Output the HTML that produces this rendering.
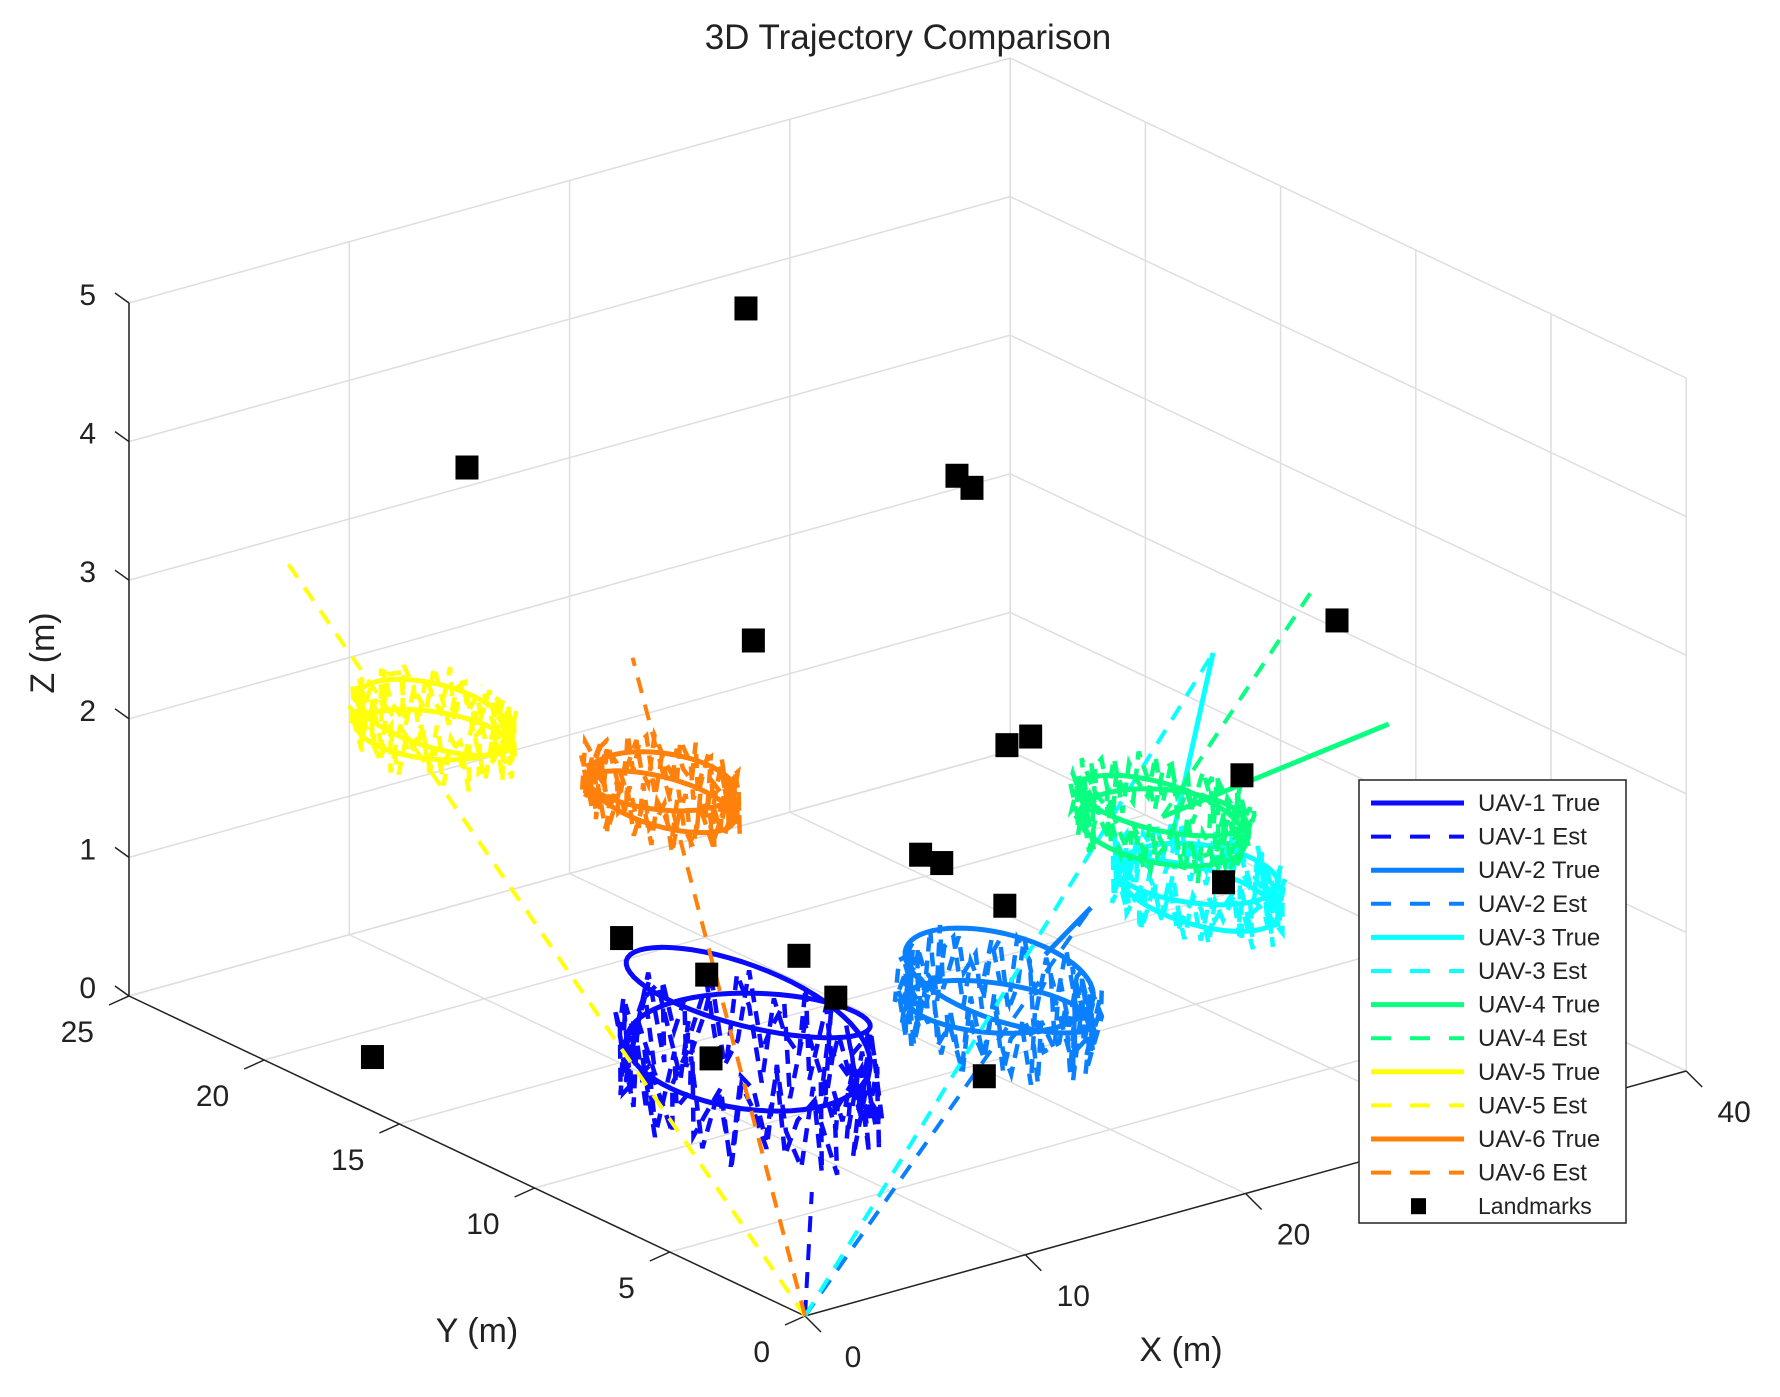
<!DOCTYPE html>
<html><head><meta charset="utf-8"><style>
html,body{margin:0;padding:0;background:#fff;}
svg{display:block;font-family:"Liberation Sans",Arial,sans-serif;}
</style></head><body>
<svg id="chart" width="1780" height="1397" viewBox="0 0 1780 1397" xmlns="http://www.w3.org/2000/svg">
<rect width="1780" height="1397" fill="#fff"/>
<text x="908" y="49" font-size="35" text-anchor="middle" fill="#222">3D Trajectory Comparison</text>
<g id="grid"></g>
<g id="axes"></g>
<g id="series"></g>
<g id="marks"></g>
<text x="1181" y="1361" font-size="34" text-anchor="middle" fill="#222">X (m)</text>
<text x="477" y="1342" font-size="34" text-anchor="middle" fill="#222">Y (m)</text>
<text x="54" y="653" font-size="34" text-anchor="middle" fill="#222" transform="rotate(-90 54 653)">Z (m)</text>
<g id="legend"></g>
</svg>
<script>
// ---- data ----
const xTicks = [0, 10, 20, 30, 40];
const yTicks = [0, 5, 10, 15, 20, 25];
const zTicks = [0, 1, 2, 3, 4, 5];
const uavNames = ["UAV-1", "UAV-2", "UAV-3", "UAV-4", "UAV-5", "UAV-6"];
const uavColors = ["#0a0aff", "#0a80ff", "#0affff", "#0aff80", "#ffff0a", "#ff800a"];
const orbitCX = [8.1, 16.3, 24.7, 25.3, 8.3, 12.5];
const orbitCY = [8.7, 6.1, 5.6, 7.4, 20.5, 15.5];
const orbitCZ = [0.95, 1.05, 1.5, 1.8, 2.0, 1.8];
const orbitR = [3.5, 2.7, 2.3, 2.4, 2.2, 2.1];
const orbitTilt = [0.09, 0.07, 0.05, 0.05, 0.05, 0.05];
const estSpread = [0.45, 0.35, 0.25, 0.25, 0.25, 0.25];
const estOffsetZ = [-0.35, -0.1, 0, 0, 0, 0];
const trueStartX = [3.5, 19.5, 26.0, 25.3, 5.8, 13.9];
const trueStartY = [2.6, 7.0, 7.6, 7.4, 24.0, 17.7];
const trueStartZ = [0.5, 1.1, 1.6, 1.8, 3.0, 2.5];
const trueTailX = [3.5, 22.8, 30.8, 35.7, 5.8, 13.9];
const trueTailY = [2.6, 8.0, 10.0, 7.5, 24.0, 17.7];
const trueTailZ = [0.5, 1.2, 2.5, 2.0, 3.0, 2.5];
const estStartX = [0, 0, 0, 25.3, 0, 0];
const estStartY = [0, 0, 0, 7.4, 0, 0];
const estStartZ = [0, 0, 0, 1.8, 0, 0];
const estTailX = [3.5, 22.8, 30.8, 33.2, 5.8, 13.9];
const estTailY = [2.6, 8.0, 10.0, 8.3, 24.0, 17.7];
const estTailZ = [0.5, 1.2, 2.5, 3.0, 3.0, 2.5];
const noise = [0.8,-0.6,0.3,-0.9,0.5,0.1,-0.4,0.9,-0.2,-0.7,0.6,0.2,-0.8,0.4,-0.1,0.7,-0.5,0.9,-0.3,0.0,0.5,-0.9,0.3,0.8,-0.6,-0.2,0.7,-0.4,0.1,-0.8,0.6,0.4,-0.7,0.2,0.9,-0.5,-0.1,0.3,-0.9,0.7,0.5,-0.3,0.8,-0.6,0.0,0.4,-0.8,0.6,-0.2,0.1];
const lmX = [21.5, 8.1, 25.8, 25.5, 18.4, 36.3, 27.7, 28.9, 32.6, 22.8, 22.9, 23.8, 13.4, 17.4, 15.3, 1.6, 11.2, 17.6, 17.1, 29.8];
const lmY = [19.7, 19.1, 15.4, 14.6, 16.9, 9.9, 15.1, 15.2, 10.4, 14.3, 13.6, 12.0, 17.7, 14.4, 16.1, 17.3, 12.6, 13.2, 7.3, 8.8];
const lmZ = [4.5, 4.0, 3.5, 3.5, 2.5, 2.5, 1.5, 1.5, 1.5, 1.0, 1.0, 0.8, 0.5, 0.5, 0.3, 0.2, 0.2, 0.3, 0.3, 1.0];

// ---- projection ----
const O = [805, 1316], EX = [22.03, -6.125], EY = [-27.04, -12.8], EZ = 138.6;
function P(x, y, z) { return [O[0] + EX[0]*x + EY[0]*y, O[1] + EX[1]*x + EY[1]*y - EZ*z]; }
const NS = "http://www.w3.org/2000/svg";
function mk(tag, parent, attrs) { const e = document.createElementNS(NS, tag); for (const k in attrs) e.setAttribute(k, attrs[k]); parent.appendChild(e); return e; }
function seg(parent, a, b, stroke, w) { return mk("line", parent, {x1:a[0], y1:a[1], x2:b[0], y2:b[1], stroke:stroke, "stroke-width":w}); }

const grid = document.getElementById("grid");
const GC = "#dedede";
xTicks.forEach(x => {
  let l = seg(grid, P(x,0,0), P(x,25,0), GC, 1.5);
  
  
  l = seg(grid, P(x,25,0), P(x,25,5), GC, 1.5);
  
  
});
yTicks.forEach(y => {
  let l = seg(grid, P(0,y,0), P(40,y,0), GC, 1.5);
  
  
  l = seg(grid, P(40,y,0), P(40,y,5), GC, 1.5);
  
  
});
zTicks.forEach(z => {
  let l = seg(grid, P(0,25,z), P(40,25,z), GC, 1.5);
  
  
  l = seg(grid, P(40,0,z), P(40,25,z), GC, 1.5);
  
  
});

const axes = document.getElementById("axes");
let ax = seg(axes, P(0,0,0), P(40,0,0), "#222", 1.5);


ax = seg(axes, P(0,0,0), P(0,25,0), "#222", 1.5);


ax = seg(axes, P(0,25,0), P(0,25,5), "#222", 1.5);


xTicks.forEach(x => {
  const p = P(x,0,0);
  let t = seg(axes, p, [p[0]+16, p[1]+16], "#222", 1.5);
  
  
  const lb = mk("text", axes, {x:p[0]+48, y:p[1]+51, "font-size":30, "text-anchor":"middle", fill:"#222"});
  lb.textContent = x;
  
  
});
yTicks.forEach(y => {
  const p = P(0,y,0);
  let t = seg(axes, p, [p[0]-20, p[1]+9], "#222", 1.5);
  
  
  const lb = mk("text", axes, {x:p[0]-35, y:p[1]+46, "font-size":30, "text-anchor":"end", fill:"#222"});
  lb.textContent = y;
  
  
});
zTicks.forEach(z => {
  const p = P(0,25,z);
  let t = seg(axes, p, [p[0]-14, p[1]-10], "#222", 1.5);
  
  
  const lb = mk("text", axes, {x:96, y:p[1]+2, "font-size":30, "text-anchor":"end", fill:"#222"});
  lb.textContent = z;
  
  
});

// ---- series ----
const series = document.getElementById("series");
function pts(arr) { return arr.map(p => p[0].toFixed(1) + "," + p[1].toFixed(1)).join(" "); }
for (let u = 0; u < 6; u++) {
  const tr = [P(trueStartX[u], trueStartY[u], trueStartZ[u]), P(trueTailX[u], trueTailY[u], trueTailZ[u])];
  const es = [P(estStartX[u], estStartY[u], estStartZ[u]), P(estTailX[u], estTailY[u], estTailZ[u])];
  const orbT = [], orbE = [];
  const N = 120;
  for (let i = 0; i <= N; i++) {
    const th = i / N * 4 * Math.PI;
    orbT.push(P(orbitCX[u] + orbitR[u]*Math.cos(th), orbitCY[u] + orbitR[u]*Math.sin(th), orbitCZ[u] + orbitTilt[u]*orbitR[u]*Math.sin(th/2 + u)));
  }
  const M = 130;
  for (let i = 0; i <= M; i++) {
    const th = i / M * 4 * Math.PI;
    const rr = orbitR[u] * (1 + 0.12*noise[(i*7 + u) % noise.length]);
    orbE.push(P(orbitCX[u] + rr*Math.cos(th), orbitCY[u] + rr*Math.sin(th), orbitCZ[u] + estOffsetZ[u] + estSpread[u]*noise[(i + u*3) % noise.length]));
  }
  let e = mk("polyline", series, {points:pts(es), fill:"none", stroke:uavColors[u], "stroke-width":4, "stroke-dasharray":"16 12"});
  
  
  e = mk("polyline", series, {points:pts(tr), fill:"none", stroke:uavColors[u], "stroke-width":5});
  
  
  e = mk("polyline", series, {points:pts(orbE), fill:"none", stroke:uavColors[u], "stroke-width":4.5, "stroke-dasharray":"14 9"});
  
  
  e = mk("polyline", series, {points:pts(orbT), fill:"none", stroke:uavColors[u], "stroke-width":5, "stroke-linejoin":"round"});
  
  
}

// ---- landmarks ----
const marks = document.getElementById("marks");
for (let i = 0; i < lmX.length; i++) {
  const p = P(lmX[i], lmY[i], lmZ[i]);
  const r = mk("rect", marks, {x:p[0]-11.5, y:p[1]-12, width:23, height:24, fill:"#000"});
  
  
}

// ---- legend ----
const lg = document.getElementById("legend");
const box = mk("rect", lg, {x:1359, y:780, width:267, height:443, fill:"#fff", stroke:"#222", "stroke-width":1.5});


let row = 0;
for (let u = 0; u < 6; u++) {
  for (let k = 0; k < 2; k++) {
    const y = 803 + row * 33.6;
    const ln = mk("line", lg, {x1:1371, y1:y, x2:1464, y2:y, stroke:uavColors[u], "stroke-width":k ? 4 : 5});
    if (k) ln.setAttribute("stroke-dasharray", "20 19");
    
    
    const t = mk("text", lg, {x:1478, y:y+8, "font-size":24, fill:"#222"});
    t.textContent = uavNames[u] + (k ? " Est" : " True");
    
    
    row++;
  }
}
const ly = 803 + 12 * 33.6;
const lm = mk("rect", lg, {x:1411, y:ly-8, width:15, height:16, fill:"#000"});


const lt = mk("text", lg, {x:1478, y:ly+8, "font-size":23, fill:"#222"});
lt.textContent = "Landmarks";


</script>
</body></html>
